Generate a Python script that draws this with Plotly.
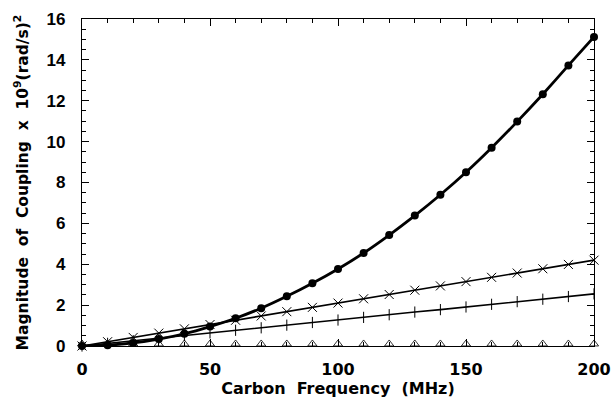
import plotly.graph_objects as go

freq = [0, 10, 20, 30, 40, 50, 60, 70, 80, 90, 100, 110, 120, 130, 140, 150, 160, 170, 180, 190, 200]
circle_vals = [0.0, 0.04, 0.15, 0.34, 0.60, 0.95, 1.36, 1.85, 2.43, 3.07, 3.77, 4.55, 5.43, 6.38, 7.40, 8.50, 9.70, 10.98, 12.32, 13.73, 15.12]
x_vals = [0.0, 0.21, 0.42, 0.63, 0.84, 1.05, 1.26, 1.47, 1.68, 1.89, 2.10, 2.31, 2.52, 2.73, 2.94, 3.15, 3.36, 3.57, 3.78, 3.99, 4.20]
plus_vals = [0.0, 0.13, 0.26, 0.38, 0.51, 0.64, 0.77, 0.89, 1.02, 1.15, 1.27, 1.40, 1.53, 1.66, 1.78, 1.91, 2.04, 2.17, 2.29, 2.42, 2.55]
tri_vals = [0.1] * 21

x_ticks = [0, 50, 100, 150, 200]
y_ticks = [0, 2, 4, 6, 8, 10, 12, 14, 16]

FONT = "DejaVu Sans"
fig = go.Figure()

fig.add_trace(go.Scatter(x=freq, y=tri_vals, mode="markers",
                         marker=dict(symbol="triangle-up-open", size=8, color="black",
                                     line=dict(width=0.8, color="black")),
                         cliponaxis=False, showlegend=False))
fig.add_trace(go.Scatter(x=freq, y=plus_vals, mode="lines+markers",
                         line=dict(color="black", width=1.6),
                         marker=dict(symbol="line-ns-open", size=8, color="black",
                                     line=dict(width=1, color="black")),
                         cliponaxis=False, showlegend=False))
fig.add_trace(go.Scatter(x=freq, y=x_vals, mode="lines+markers",
                         line=dict(color="black", width=1.6),
                         marker=dict(symbol="x-thin-open", size=9, color="black",
                                     line=dict(width=1, color="black")),
                         cliponaxis=False, showlegend=False))
fig.add_trace(go.Scatter(x=freq, y=circle_vals, mode="lines+markers",
                         line=dict(color="black", width=2.8, shape="spline", smoothing=0.5),
                         marker=dict(symbol="circle", size=8, color="black"),
                         cliponaxis=False, showlegend=False))

axis_common = dict(showline=True, linecolor="black", linewidth=1.2, mirror="allticks",
                   ticks="inside", ticklen=7, tickwidth=1, tickcolor="black",
                   showgrid=False, zeroline=False, automargin=False)

fig.update_xaxes(range=[0, 200], tickvals=x_ticks, ticktext=[str(v) for v in x_ticks],
                 minor=dict(ticks="inside", ticklen=4, dtick=10, tick0=0, tickcolor="black", showgrid=False),
                 ticklabelstandoff=9,
                 tickfont=dict(family=FONT, size=16, color="black", weight="bold"),
                 title=dict(text="Carbon  Frequency  (MHz)", standoff=4,
                            font=dict(family=FONT, size=16, color="black", weight="bold")),
                 **axis_common)
fig.update_yaxes(range=[0, 16], tickvals=y_ticks, ticktext=[str(v) for v in y_ticks],
                 minor=dict(ticks="inside", ticklen=4, dtick=0.5, tick0=0, tickcolor="black", showgrid=False),
                 ticklabelstandoff=12,
                 tickfont=dict(family="Liberation Sans", size=17, color="black", weight="bold"),
                 title=dict(text="Magnitude  of  Coupling  x  10<sup>9</sup>(rad/s)<sup>2</sup>", standoff=14,
                            font=dict(family=FONT, size=15.5, color="black", weight="bold")),
                 **axis_common)

fig.update_layout(width=611, height=398, margin=dict(l=82, r=17, t=19, b=52),
                  paper_bgcolor="white", plot_bgcolor="white",
                  font=dict(family=FONT, color="black"))

fig.write_html("out.html", config={"displayModeBar": False},
               post_script="document.body.style.margin='0';document.body.style.overflow='hidden';")
